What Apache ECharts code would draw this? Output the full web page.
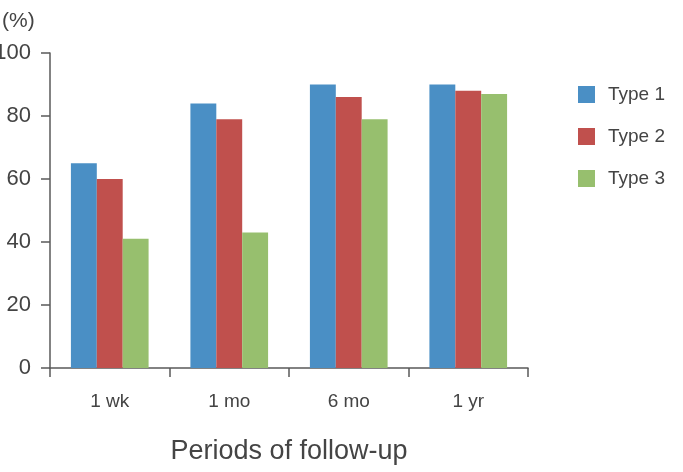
<!DOCTYPE html>
<html lang="en">
<head>
    <meta charset="UTF-8">
    <title>Periods of follow-up</title>
    <script src="https://cdn.jsdelivr.net/npm/echarts@6/dist/echarts.min.js"></script>
    <style>
        * { margin: 0; padding: 0; }
        #chart { width: 683px; height: 472px; background: #fff; }
    </style>
</head>
<body>
    <div id="chart"></div>
    <script>
        // data
        var periods = ['1 wk', '1 mo', '6 mo', '1 yr'];
        var seriesNames = ['Type 1', 'Type 2', 'Type 3'];
        var type1 = [65, 84, 90, 90];
        var type2 = [60, 79, 86, 88];
        var type3 = [41, 43, 79, 87];
        var yTicks = [0, 20, 40, 60, 80, 100];

        var colors = ['#4a8fc5', '#c0504d', '#97bf6e'];
        var fontFam = '"Liberation Sans", Arial, sans-serif';
        var axisColor = '#5a5a5a';

        var chart = echarts.init(document.getElementById('chart'));

        var option = {
            animation: false,
            color: colors,
            title: {
                text: '(%)',
                left: -3,
                top: 6,
                textStyle: { fontFamily: fontFam, fontSize: 21, fontWeight: 'normal', color: '#444' }
            },
            legend: {
                data: seriesNames,
                orient: 'vertical',
                left: 573,
                top: 80,
                icon: 'rect',
                itemWidth: 17,
                itemHeight: 17,
                itemGap: 23,
                textStyle: { fontFamily: fontFam, fontSize: 19, color: '#444', padding: [0, 0, 0, 8] }
            },
            grid: { left: 50, right: 155, top: 53, bottom: 104, containLabel: false, outerBoundsMode: 'none' },
            xAxis: {
                type: 'category',
                data: periods,
                name: 'Periods of follow-up',
                nameLocation: 'middle',
                nameGap: 70,
                nameTextStyle: { fontFamily: fontFam, fontSize: 27, color: '#444' },
                axisLine: { lineStyle: { color: axisColor, width: 1.5 } },
                axisTick: { show: true, length: 9, lineStyle: { color: axisColor, width: 1.5 } },
                axisLabel: { fontFamily: fontFam, fontSize: 19, color: '#444', margin: 24 }
            },
            yAxis: {
                type: 'value',
                min: yTicks[0],
                max: yTicks[yTicks.length - 1],
                interval: 20,
                splitLine: { show: false },
                axisLine: { show: true, lineStyle: { color: axisColor, width: 1.5 } },
                axisTick: { show: true, length: 9, lineStyle: { color: axisColor, width: 1.5 } },
                axisLabel: { fontFamily: fontFam, fontSize: 22, color: '#444', margin: 19 }
            },
            series: [
                { name: seriesNames[0], type: 'bar', data: type1, barGap: 0, barCategoryGap: '35%' },
                { name: seriesNames[1], type: 'bar', data: type2, barGap: 0, barCategoryGap: '35%' },
                { name: seriesNames[2], type: 'bar', data: type3, barGap: 0, barCategoryGap: '35%' }
            ]
        };

        chart.setOption(option);
    </script>
</body>
</html>
